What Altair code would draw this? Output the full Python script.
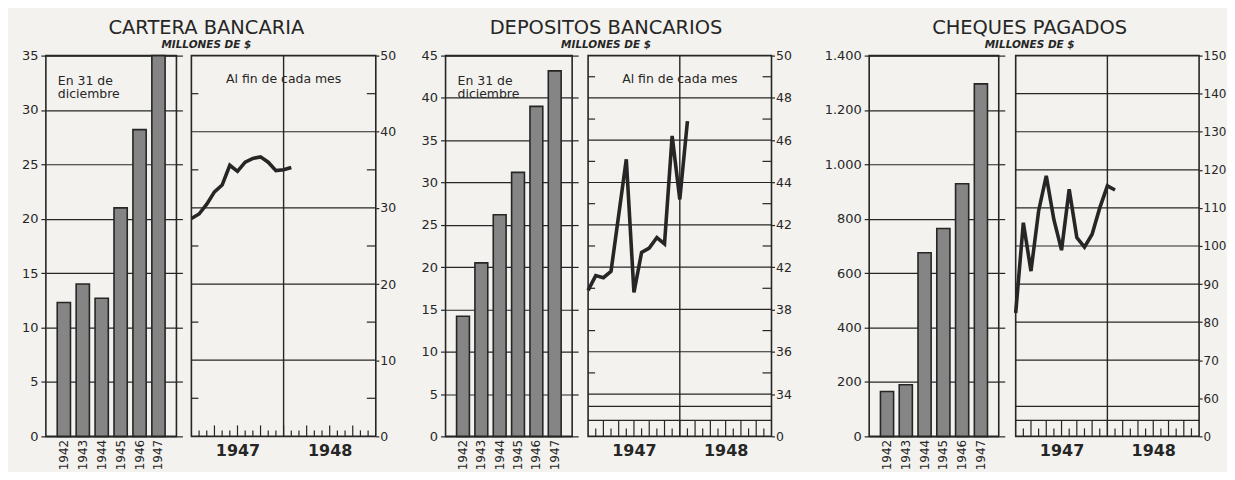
import altair as alt
import pandas as pd

# ---------------- datos ----------------
anios = ["1942", "1943", "1944", "1945", "1946", "1947"]
cartera_dic = [12.3, 14.0, 12.7, 21.0, 28.2, 35.0]
depositos_dic = [14.2, 20.5, 26.2, 31.2, 39.0, 43.2]
cheques_dic = [165, 190, 675, 764, 929, 1296]

# indice de mes: 0 = fin dic 1946 ... 13 = fin ene 1948 (escala 0-24 = 1947-1948)
meses = list(range(14))
cartera_mes = [28.6, 29.2, 30.5, 32.1, 33.0, 35.6, 34.8, 36.0, 36.5, 36.7, 36.0, 34.9, 35.0, 35.3]
depositos_mes = [38.9, 39.6, 39.5, 39.8, 42.45, 45.1, 38.8, 40.7, 40.9, 41.4, 41.1, 46.2, 43.2, 46.9]
cheques_mes = [82.4, 106.1, 93.4, 109.2, 118.4, 106.9, 98.9, 114.9, 102.2, 99.7, 103.1, 110.0, 115.8, 114.7]

marcas_mes = list(range(1, 24))
etiquetas_anio = ["1947", "1948"]
posicion_anio = [6, 18]
division_anio = [12]

titulos = ["CARTERA BANCARIA", "DEPOSITOS BANCARIOS", "CHEQUES PAGADOS"]
subtitulo = "MILLONES DE $"

INK = "#262626"
BG = "#f3f2ee"
FONT = "DejaVu Sans"
H = 382


def bar_panel(values, ymax, step, width, titulo, label_expr=None, note=False):
    df = pd.DataFrame({"anio": anios, "v": values})
    ticks = list(range(0, ymax + 1, step))
    ys = alt.Scale(domain=[0, ymax], nice=False, zero=True)
    xenc = alt.X("anio:N", sort=anios,
                 scale=alt.Scale(paddingInner=0.3, paddingOuter=0.6),
                 axis=alt.Axis(title=None, labelAngle=270, ticks=False, domain=False,
                               labelFontSize=12, labelPadding=3, labelColor=INK))
    left_kw = dict(orient="left", values=ticks, title=None, grid=True, gridColor=INK,
                   gridWidth=1.2, tickColor=INK, tickSize=5, tickWidth=1.2, domain=False,
                   labelFontSize=13, labelPadding=3, labelColor=INK)
    if label_expr:
        left_kw["labelExpr"] = label_expr
    bars = alt.Chart(df).mark_bar(fill="#858585", stroke=INK, strokeWidth=1.6).encode(
        x=xenc, y=alt.Y("v:Q", scale=ys, axis=alt.Axis(**left_kw)))
    right = alt.Chart(df).mark_bar(opacity=0).encode(
        x=xenc,
        y=alt.Y("v:Q", scale=ys, axis=alt.Axis(orient="right", values=ticks, labels=False,
                                               title=None, grid=False, domain=False,
                                               tickColor=INK, tickSize=6, tickWidth=1.2)))
    tdf = pd.DataFrame({"t": [titulo], "s": [subtitulo]})
    head = alt.Chart(tdf).mark_text(align="center", baseline="middle", fontSize=19.5,
                                    color=INK, font=FONT).encode(
        text="t:N", x=alt.value(161), y=alt.value(-28))
    sub = alt.Chart(tdf).mark_text(align="center", baseline="middle", fontSize=10.5,
                                   fontStyle="italic", fontWeight="bold", color=INK,
                                   font=FONT).encode(
        text="s:N", x=alt.value(161), y=alt.value(-11))
    layers = [bars, right, head, sub]
    if note:
        layers.append(
            alt.Chart(pd.DataFrame({"t": ["En 31 de"]})).mark_text(
                text=["En 31 de", "diciembre"], align="left", baseline="middle",
                fontSize=12.5, lineHeight=14, color=INK, font=FONT
            ).encode(x=alt.value(12), y=alt.value(25)))
    return alt.layer(*layers).resolve_axis(y="independent").properties(width=width, height=H)


def line_panel(values, domain, axis_vals, label_expr, grid_vals, minor_vals, broken, note,
               width=184, label_size=12.5):
    df = pd.DataFrame({"mes": meses, "v": values})
    xs = alt.Scale(domain=[0, 24], nice=False, zero=False)
    ys = alt.Scale(domain=domain, nice=False, zero=False)
    xaxis = alt.Axis(values=posicion_anio,
                     labelExpr="datum.value == 6 ? '%s' : '%s'" % tuple(etiquetas_anio),
                     ticks=False, domain=False, grid=False, title=None, labelFontSize=16,
                     labelFontWeight="bold", labelPadding=6, labelColor=INK)
    yaxis = alt.Axis(orient="right", values=axis_vals, labelExpr=label_expr, grid=False,
                     domain=False, ticks=True, tickSize=3, tickColor=INK, tickWidth=1.2,
                     title=None, labelFontSize=label_size, labelPadding=1, labelColor=INK)
    X = lambda f: alt.X(f, scale=xs, axis=xaxis)
    Y = lambda f: alt.Y(f, scale=ys, axis=yaxis)

    layers = []
    layers.append(alt.Chart(pd.DataFrame({"g": grid_vals})).mark_rule(
        color=INK, strokeWidth=1.2).encode(y=Y("g:Q")))
    if minor_vals:
        mdf = pd.DataFrame({"m": minor_vals})
        layers.append(alt.Chart(mdf).mark_rule(color=INK, strokeWidth=1.2).encode(
            y=Y("m:Q"), x=alt.value(0), x2=alt.value(7)))
        layers.append(alt.Chart(mdf).mark_rule(color=INK, strokeWidth=1.2).encode(
            y=Y("m:Q"), x=alt.value(width - 9), x2=alt.value(width)))
    layers.append(alt.Chart(pd.DataFrame({"d": division_anio})).mark_rule(
        color=INK, strokeWidth=1.4).encode(x=X("d:Q")))

    tdf = pd.DataFrame({"t": marcas_mes})
    if not broken:
        layers.append(alt.Chart(tdf).transform_filter("datum.t % 3 != 0").mark_rule(
            color=INK, strokeWidth=1.2).encode(x=X("t:Q"), y=alt.value(H), y2=alt.value(H - 6)))
        layers.append(alt.Chart(tdf).transform_filter("datum.t % 3 == 0").mark_rule(
            color=INK, strokeWidth=1.2).encode(x=X("t:Q"), y=alt.value(H), y2=alt.value(H - 11)))
    else:
        layers.append(alt.Chart(pd.DataFrame({"b": [0]})).mark_rule(
            color=INK, strokeWidth=1.3).encode(x=alt.value(0), x2=alt.value(width),
                                              y=alt.value(H - 30)))
        layers.append(alt.Chart(pd.DataFrame({"b": [0]})).mark_rule(
            color=INK, strokeWidth=1.3).encode(x=alt.value(0), x2=alt.value(width),
                                              y=alt.value(H - 16)))
        layers.append(alt.Chart(tdf).transform_filter("datum.t % 2 == 0").mark_rule(
            color=INK, strokeWidth=1.2).encode(x=X("t:Q"), y=alt.value(H), y2=alt.value(H - 16)))
        layers.append(alt.Chart(tdf).transform_filter("datum.t % 2 != 0").mark_rule(
            color=INK, strokeWidth=1.2).encode(x=X("t:Q"), y=alt.value(H), y2=alt.value(H - 8)))

    layers.append(alt.Chart(df).mark_line(color=INK, strokeWidth=3.6, strokeJoin="miter").encode(
        x=X("mes:Q"), y=Y("v:Q")))
    if note:
        layers.append(alt.Chart(pd.DataFrame({"d": division_anio})).mark_text(
            text="Al fin de cada mes", align="center", baseline="middle", fontSize=12.5,
            color=INK, font=FONT).encode(x=X("d:Q"), y=alt.value(23)))
    return alt.layer(*layers).properties(width=width, height=H)


def spacer(w):
    return alt.Chart(pd.DataFrame({"z": [0]})).mark_point(opacity=0).encode(
        x=alt.value(0), y=alt.value(0)).properties(
        width=w, height=H, view=alt.ViewBackground(stroke="transparent"))


bar1 = bar_panel(cartera_dic, 35, 5, 131, titulos[0], note=True)
line1 = line_panel(cartera_mes, [0, 50], list(range(0, 51, 10)), "datum.label",
                   [10, 20, 30, 40], [5, 15, 25, 35, 45], broken=False, note=True, width=185)
bar2 = bar_panel(depositos_dic, 45, 5, 127, titulos[1], note=True)
line2 = line_panel(depositos_mes, [32, 50], list(range(32, 51, 2)),
                   "datum.value == 32 ? '0' : datum.value == 40 ? '42' : datum.label",
                   list(range(34, 49, 2)), list(range(35, 50, 2)), broken=True, note=True)
bar3 = bar_panel(cheques_dic, 1400, 200, 130, titulos[2],
                 label_expr="replace(format(datum.value, ','), ',', '.')")
line3 = line_panel(cheques_mes, [50, 150], list(range(50, 151, 10)),
                   "datum.value == 50 ? '0' : datum.label",
                   list(range(70, 141, 10)), [], broken=True, note=False, label_size=12)

chart = alt.hconcat(
    bar1, spacer(15), line1, spacer(70), bar2, spacer(16), line2, spacer(98),
    bar3, spacer(17), line3,
    spacing=0, bounds="flush"
).properties(
    background=BG, padding={"left": 12, "top": 8, "right": 0, "bottom": 0}
).configure(font=FONT).configure_view(stroke=INK, strokeWidth=1.6)

chart.save("out.html", embed_options={"renderer": "svg", "actions": False})
